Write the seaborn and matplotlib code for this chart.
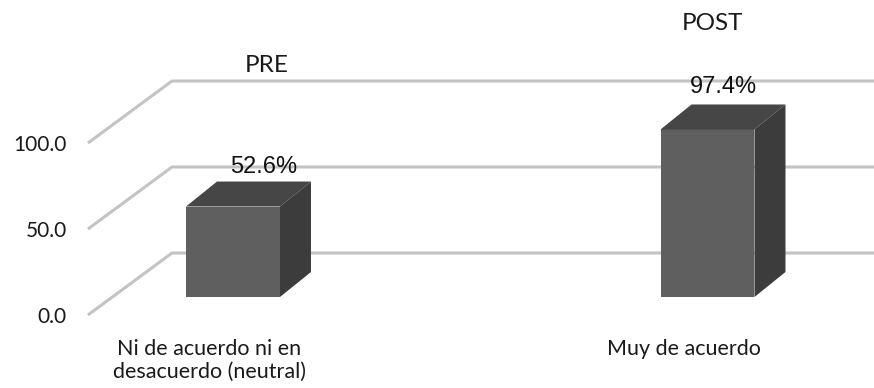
import matplotlib
matplotlib.use("Agg")
import matplotlib.pyplot as plt
import seaborn as sns
import pandas as pd
from matplotlib.patches import Polygon

# ---------------- data ----------------
categories = ["Ni de acuerdo ni en\ndesacuerdo (neutral)", "Muy de acuerdo"]
groups = ["PRE", "POST"]
values = [52.6, 97.4]
ytick_values = [0, 50, 100]
ytick_labels = ["0.0", "50.0", "100.0"]

# ---------------- style ----------------
sns.set_theme(style="white")
plt.rcParams["font.family"] = ["Lato", "DejaVu Sans"]

FRONT = "#5f5f5f"
TOP = "#464646"
SIDE = "#3c3c3c"
GRID = "#c3c3c3"

W, H = 874, 388
fig = plt.figure(figsize=(W / 100, H / 100), dpi=100)
ax = fig.add_axes([0, 0, 1, 1])

df = pd.DataFrame({"cat": categories, "val": values, "grp": groups})
sns.barplot(data=df, x="cat", y="val", color=FRONT, saturation=1, width=0.198,
            ax=ax, zorder=3, linewidth=0)

# pixel-based layout of the pseudo 3D scene
PX_PER_UNIT = 1.72
PX_PER_CAT = 474.5
X0_PX = 233
Y0_PX = 297
ax.set_xlim(-X0_PX / PX_PER_CAT, (W - X0_PX) / PX_PER_CAT)
ax.set_ylim(-(H - Y0_PX) / PX_PER_UNIT, Y0_PX / PX_PER_UNIT)
ax.axis("off")

def dxp(px):
    return px / PX_PER_CAT

def dyp(px):
    return px / PX_PER_UNIT

xmax = ax.get_xlim()[1]
front_x = dxp(88 - X0_PX)
back_x = dxp(172 - X0_PX)
front_dy = dyp(-18)
back_dy = dyp(44)

for v, lab in zip(ytick_values, ytick_labels):
    ax.plot([front_x, back_x, xmax], [v + front_dy, v + back_dy, v + back_dy],
            color=GRID, lw=2.2, zorder=1, solid_capstyle="butt")
    ax.text(front_x - dxp(21), v + front_dy - dyp(2), lab, ha="right", va="center",
            fontsize=15, color="#1a1a1a")

# 3D faces of the bars
DX = dxp(31)
DY_TOP = dyp(25)
DY_BOT = dyp(25)
for p in ax.patches:
    x0 = p.get_x()
    x1 = x0 + p.get_width()
    y1 = p.get_height()
    top = Polygon([(x0, y1), (x0 + DX, y1 + DY_TOP), (x1 + DX, y1 + DY_TOP), (x1, y1)],
                  closed=True, facecolor=TOP, edgecolor="none", zorder=3)
    side = Polygon([(x1, 0), (x1, y1), (x1 + DX, y1 + DY_TOP), (x1 + DX, DY_BOT)],
                   closed=True, facecolor=SIDE, edgecolor="none", zorder=3)
    ax.add_patch(top)
    ax.add_patch(side)

# data labels (pixel offsets from the front-top centre of each bar)
label_offsets = [(31, 40), (16, 42)]
for i, (v, (ox, oy)) in enumerate(zip(values, label_offsets)):
    ax.text(i + dxp(ox), v + dyp(oy), f"{v:.1f}%", ha="center", va="center",
            fontsize=17, family=["Liberation Sans", "DejaVu Sans"], color="#111111", zorder=4)

# category labels
cat_offsets = [-24, -24]
for i, (c, ox) in enumerate(zip(categories, cat_offsets)):
    ax.text(i + dxp(ox), dyp(-42), c, ha="center", va="top", fontsize=15.5,
            color="#1a1a1a", linespacing=1.15)

# group labels
group_pos = [(dxp(34), dyp(297 - 66)), (1 + dxp(5), dyp(297 - 23.5))]
for (gx, gy), g in zip(group_pos, groups):
    ax.text(gx, gy, g, ha="center", va="center", fontsize=17.5, color="#1a1a1a")

fig.savefig("out.png", dpi=100)
